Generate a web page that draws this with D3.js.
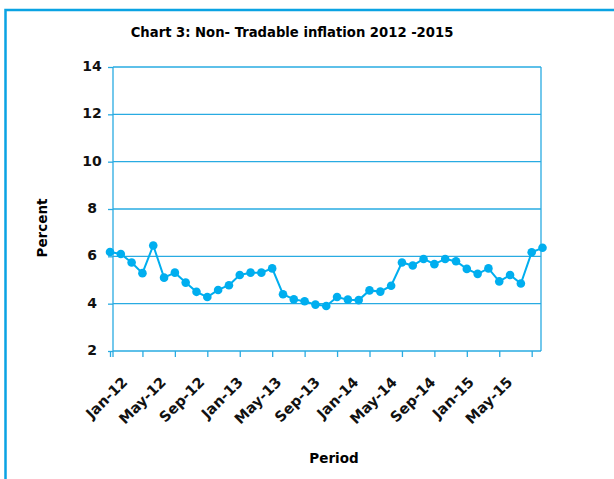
<!DOCTYPE html>
<html>
<head>
<meta charset="utf-8">
<script src="https://cdn.jsdelivr.net/npm/d3@7"></script>
<style>
  body { margin: 0; background: #fff; }
  svg { display: block; font-family: "DejaVu Sans", sans-serif; }
  .domain { display: none; }
</style>
</head>
<body>
<div id="main"></div>
<script>
var width = 614,
    height = 479;

// data
var periods = [
  "Jan-12","Feb-12","Mar-12","Apr-12","May-12","Jun-12","Jul-12","Aug-12","Sep-12","Oct-12","Nov-12","Dec-12",
  "Jan-13","Feb-13","Mar-13","Apr-13","May-13","Jun-13","Jul-13","Aug-13","Sep-13","Oct-13","Nov-13","Dec-13",
  "Jan-14","Feb-14","Mar-14","Apr-14","May-14","Jun-14","Jul-14","Aug-14","Sep-14","Oct-14","Nov-14","Dec-14",
  "Jan-15","Feb-15","Mar-15","Apr-15","May-15"
];
var values = [
  6.18, 6.10, 5.74, 5.29, 6.46, 5.10, 5.31, 4.89, 4.50, 4.28, 4.58, 4.78,
  5.21, 5.31, 5.31, 5.49, 4.40, 4.18, 4.10, 3.96, 3.90, 4.28, 4.17, 4.15,
  4.56, 4.51, 4.76, 5.74, 5.61, 5.89, 5.67, 5.89, 5.79, 5.47, 5.26, 5.49,
  4.94, 5.21, 4.85, 6.17, 6.36
];
var tickLabels = ["Jan-12","May-12","Sep-12","Jan-13","May-13","Sep-13","Jan-14","May-14","Sep-14","Jan-15","May-15"];
var yTicks = [2, 4, 6, 8, 10, 12, 14];

var blue = "#29abe2",
    dotBlue = "#00aeef";

var plot = { left: 113, right: 541, top: 67, bottom: 351 };

var svg = d3.select("#main").append("svg")
    .attr("width", width)
    .attr("height", height);

// outer frame
svg.append("rect")
    .attr("x", 5.5).attr("y", 10)
    .attr("width", 700).attr("height", 600)
    .attr("fill", "none")
    .attr("stroke", "#0aa3e3")
    .attr("stroke-width", 2.5);

svg.append("text")
    .attr("x", 292).attr("y", 37)
    .attr("text-anchor", "middle")
    .attr("font-size", 13.2)
    .attr("font-weight", "bold")
    .text("Chart 3: Non- Tradable inflation 2012 -2015");

var x = d3.scalePoint()
    .domain(periods)
    .range([110, 542.5]);

var y = d3.scaleLinear()
    .domain([2, 14])
    .range([plot.bottom, plot.top]);

// gridlines
svg.append("g")
  .selectAll("line")
  .data(yTicks)
  .enter()
  .append("line")
    .attr("x1", plot.left).attr("x2", plot.right)
    .attr("y1", function(d) { return y(d); })
    .attr("y2", function(d) { return y(d); })
    .attr("stroke", blue)
    .attr("stroke-width", 1.3);

// right border
svg.append("line")
    .attr("x1", plot.right).attr("x2", plot.right)
    .attr("y1", plot.top).attr("y2", plot.bottom)
    .attr("stroke", blue).attr("stroke-width", 1.3);

// y axis
var yAxis = svg.append("g")
    .attr("transform", "translate(" + plot.left + ",0)")
    .call(d3.axisLeft(y).tickValues(yTicks).tickSize(5));
yAxis.selectAll(".tick line").attr("stroke", blue).attr("stroke-width", 1.3);
yAxis.selectAll(".tick text")
    .attr("x", -21)
    .attr("dy", "0.25em")
    .attr("text-anchor", "middle")
    .attr("font-size", 14)
    .attr("font-weight", "bold")
    .attr("font-family", "DejaVu Sans")
    .attr("fill", "#111");
yAxis.append("line")
    .attr("x1", 0).attr("x2", 0)
    .attr("y1", plot.top).attr("y2", plot.bottom + 6)
    .attr("stroke", blue).attr("stroke-width", 1.3);

// x axis tick marks
var xAxis = svg.append("g")
    .attr("transform", "translate(0," + plot.bottom + ")")
    .call(d3.axisBottom(x)
      .tickValues(periods.filter(function(d, i) { return i % 3 === 0; }))
      .tickFormat("")
      .tickSize(6));
xAxis.selectAll(".tick line").attr("stroke", blue).attr("stroke-width", 1.3);

// x tick labels
var labelScale = d3.scalePoint()
    .domain(tickLabels)
    .range([128, 513]);
var xLabels = svg.append("g")
    .attr("transform", "translate(0," + plot.bottom + ")")
    .call(d3.axisBottom(labelScale).tickSize(0));
xLabels.selectAll(".tick text")
    .attr("x", 0).attr("y", 0).attr("dy", 0)
    .attr("transform", "translate(0,32) rotate(-45)")
    .attr("text-anchor", "end")
    .attr("font-size", 14.5)
    .attr("font-weight", "bold")
    .attr("font-family", "DejaVu Sans")
    .attr("fill", "#111");

// series
var line = d3.line()
    .x(function(d, i) { return x(periods[i]); })
    .y(function(d) { return y(d); });

svg.append("path")
    .datum(values)
    .attr("d", line)
    .attr("fill", "none")
    .attr("stroke", dotBlue)
    .attr("stroke-width", 2);

svg.append("g")
  .selectAll("circle")
  .data(values)
  .enter()
  .append("circle")
    .attr("cx", function(d, i) { return x(periods[i]); })
    .attr("cy", function(d) { return y(d); })
    .attr("r", 4.3)
    .attr("fill", dotBlue);

// axis titles
svg.append("text")
    .attr("transform", "translate(47,228) rotate(-90)")
    .attr("text-anchor", "middle")
    .attr("font-size", 13.5)
    .attr("font-weight", "bold")
    .text("Percent");

svg.append("text")
    .attr("x", 334).attr("y", 463)
    .attr("text-anchor", "middle")
    .attr("font-size", 13.5)
    .attr("font-weight", "bold")
    .text("Period");
</script>
</body>
</html>
